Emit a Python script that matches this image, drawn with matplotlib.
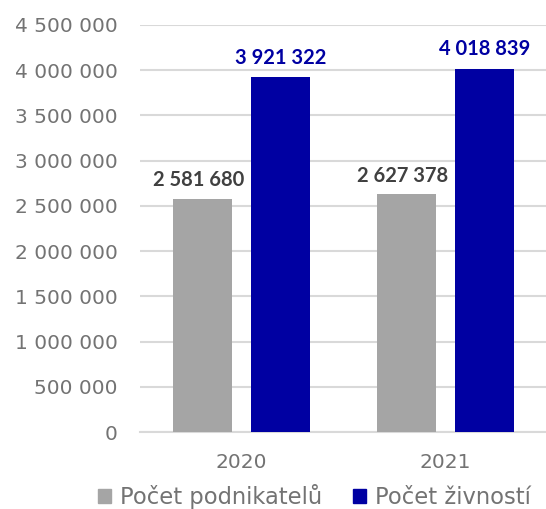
import matplotlib.pyplot as plt
import numpy as np
from matplotlib.patches import Patch

plt.rcParams['font.family'] = ['DejaVu Sans']

years = ['2020', '2021']
podnikatele = [2581680, 2627378]
zivnosti = [3921322, 4018839]
series_names = ['Počet podnikatelů', 'Počet živností']
yticks = [0, 500000, 1000000, 1500000, 2000000, 2500000, 3000000, 3500000, 4000000, 4500000]

GRAY = '#a5a5a5'
BLUE = '#0000a2'
TXT = '#737373'

def fmt(v):
    return f'{v:,}'.replace(',', ' ')

fig = plt.figure(figsize=(5.46, 5.09), dpi=100)
ax = fig.add_axes([140/546, 77/509, 406/546, 407/509])

x = np.arange(len(years))
w = 0.29
off = 0.19
b1 = ax.bar(x - off, podnikatele, w, color=GRAY, zorder=3)
b2 = ax.bar(x + off, zivnosti, w, color=BLUE, zorder=3)

for rect, v in zip(b1, podnikatele):
    ax.annotate(fmt(v), (rect.get_x() + rect.get_width()/2 - 0.02, v), xytext=(0, 6),
                textcoords='offset points', ha='center', va='bottom',
                fontsize=14.5, fontweight='bold', family='Lato', color='#404040')
for rect, v in zip(b2, zivnosti):
    ax.annotate(fmt(v), (rect.get_x() + rect.get_width()/2, v), xytext=(0, 7),
                textcoords='offset points', ha='center', va='bottom',
                fontsize=14.5, fontweight='bold', family='Lato', color=BLUE)

ax.set_xlim(-0.4975, 1.4926)
ax.set_ylim(0, 4500000)
ax.set_yticks(yticks)
ax.set_yticklabels([fmt(t) for t in yticks])
ax.set_xticks(x)
ax.set_xticklabels(years)
ax.tick_params(axis='both', length=0, labelsize=14.5, labelcolor=TXT)
ax.tick_params(axis='y', pad=16)
ax.tick_params(axis='x', pad=15)
ax.grid(axis='y', color='#d9d9d9', linewidth=1.5, zorder=0)
for s in ['top', 'right', 'left']:
    ax.spines[s].set_visible(False)
ax.spines['bottom'].set_color('#d9d9d9')
ax.spines['bottom'].set_linewidth(1.5)

handles = [Patch(color=GRAY), Patch(color=BLUE)]
fig.legend(handles, series_names, loc='center', bbox_to_anchor=(0.576, 0.024),
           ncol=2, frameon=False, fontsize=16.3, labelcolor=TXT,
           handlelength=0.55, handleheight=0.55, handletextpad=0.4,
           columnspacing=1.4, borderpad=0, borderaxespad=0)

fig.savefig('out.png', dpi=100)
